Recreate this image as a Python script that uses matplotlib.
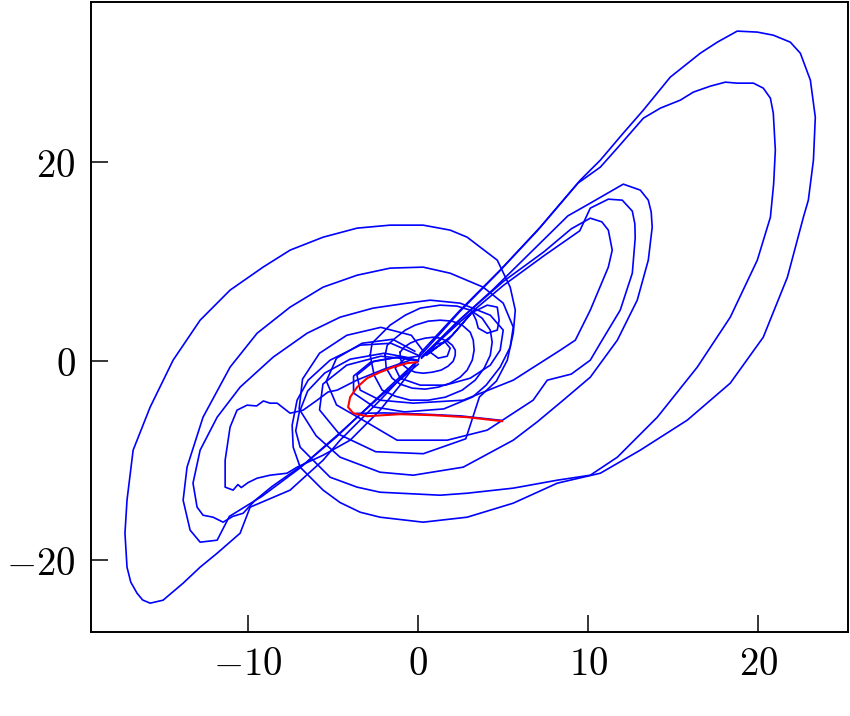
import matplotlib
matplotlib.use("Agg")
import matplotlib.pyplot as plt
from matplotlib.ticker import FuncFormatter

plt.rcParams['mathtext.fontset'] = 'cm'

# trajectory pieces, (x, y) pairs
loop_outer_right = [
    (0.0, 0.0), (0.12, 0.8), (2.47, 5.13), (4.82, 9.15), (7.18, 13.47), (9.53, 18.19),
    (10.71, 20.2), (12.0, 22.8), (13.24, 25.23), (14.82, 28.54), (16.59, 30.95), (17.59, 32.06),
    (18.76, 33.17), (19.94, 33.07), (20.88, 32.76), (21.88, 32.06), (22.47, 30.95),
    (23.06, 28.24), (23.35, 24.52), (23.24, 20.2), (22.94, 16.18), (22.65, 14.47),
    (21.71, 8.44), (20.29, 2.41), (18.35, -2.21), (15.82, -5.93), (13.06, -8.94),
    (10.71, -11.26), (8.18, -12.26), (5.59, -14.27), (2.88, -15.68), (0.29, -16.18),
    (-2.24, -15.68), (-3.41, -15.18), (-4.6, -14.2), (-5.59, -12.96), (-6.94, -10.65),
    (-7.35, -8.64), (-7.41, -6.43), (-7.12, -3.92), (-6.47, -1.91), (-5.18, 0.1),
    (-3.41, 1.61), (-1.6, 1.8), (0.0, 0.6),
]

loop_right_b = [
    (0.1, 0.5), (2.4, 4.9), (4.7, 8.9), (7.0, 13.1), (9.4, 17.9), (10.71, 19.5),
    (11.71, 21.42), (13.24, 24.42), (14.24, 25.43), (15.41, 26.23), (16.18, 27.04),
    (17.18, 27.64), (18.06, 28.04), (18.76, 27.94), (19.71, 27.94), (20.29, 27.44),
    (20.71, 26.43), (20.88, 24.92), (21.0, 21.21), (20.9, 17.8), (20.71, 14.47), (19.94, 10.15),
    (18.35, 4.42), (16.41, -0.6), (14.06, -5.63), (11.71, -9.65), (10.12, -11.46),
    (8.18, -11.96), (5.59, -12.76), (2.88, -13.27), (1.29, -13.47), (-2.24, -13.17),
    (-3.59, -12.66), (-5.18, -11.66), (-6.18, -9.95), (-6.94, -8.64), (-7.2, -7.0),
    (-7.0, -5.2), (-6.5, -3.0), (-5.5, -1.2), (-4.0, 0.2), (-2.0, 0.8), (-0.4, 0.3),
]

loop_right_c = [
    (0.2, 0.3), (2.2, 3.8), (4.4, 7.2), (6.6, 10.9), (8.8, 14.6), (10.12, 15.88),
    (12.06, 17.79), (13.06, 17.19), (13.53, 16.18), (13.7, 15.0), (13.76, 13.47), (13.53, 10.15),
    (12.88, 6.13), (11.71, 2.11), (10.12, -1.61), (8.53, -3.92), (7.0, -6.1), (5.59, -7.94),
    (2.65, -10.65), (-0.29, -11.46), (-2.24, -11.16), (-4.59, -9.65), (-6.0, -7.5),
    (-7.0, -4.8), (-6.8, -1.8), (-5.8, 0.8), (-4.2, 2.6), (-2.2, 3.4), (-0.4, 2.6),
    (0.3, 1.0),
]

loop_right_d = [
    (0.2, 0.4), (2.5, 4.0), (5.0, 7.6), (7.4, 10.6), (9.5, 13.1), (10.12, 15.38),
    (11.18, 16.28), (12.0, 16.18), (12.59, 15.08), (12.74, 13.8), (12.76, 12.36), (12.59, 8.84),
    (11.88, 5.13), (10.71, 1.81), (10.12, 0.1), (9.0, -1.3), (7.59, -1.91),
    (6.76, -3.92), (4.06, -6.93), (1.71, -7.94), (-1.24, -7.94), (-3.24, -5.93),
    (-4.8, -4.4), (-5.4, -2.0), (-4.8, 0.3), (-3.3, 1.8), (-1.5, 2.2), (-0.2, 1.0),
]

loop_right_e = [
    (0.3, 0.6), (2.6, 4.4), (5.0, 8.0), (7.4, 11.0), (9.0, 13.3), (10.12, 14.37),
    (10.8, 14.0), (11.18, 13.17), (11.41, 11.16), (11.18, 9.45), (10.12, 5.13), (9.24, 2.11),
    (8.35, 1.1), (5.59, -1.91), (2.65, -3.92), (-0.29, -4.22), (-2.24, -3.92),
    (-3.41, -2.91), (-3.6, -1.4), (-2.6, 0.0), (-1.2, 0.4), (0.0, 0.1),
]

loop_left_1 = [
    (0.0, 0.0), (-0.3, -0.4), (-2.24, -3.92), (-4.59, -7.94), (-5.59, -9.95),
    (-7.53, -12.96), (-9.88, -14.67), (-10.47, -17.29), (-11.82, -19.3), (-12.82, -20.7),
    (-13.82, -22.31), (-15.0, -24.02), (-15.76, -24.32), (-16.2, -24.0), (-16.53, -23.32),
    (-16.9, -22.2), (-17.12, -20.7), (-17.24, -17.29), (-17.12, -13.97), (-16.76, -8.94),
    (-15.76, -4.62), (-14.41, 0.1), (-12.82, 4.12), (-11.06, 7.14), (-9.12, 9.45),
    (-7.53, 11.16), (-5.59, 12.46), (-3.59, 13.37), (-1.65, 13.67), (0.29, 13.67),
    (1.88, 13.17), (2.88, 12.46), (4.65, 10.15), (5.41, 7.44), (5.71, 5.13), (5.59, 2.81),
    (5.24, 0.1), (4.6, -2.0), (3.6, -3.6), (2.8, -7.8), (0.3, -9.3), (-2.5, -9.1),
    (-4.6, -7.4), (-5.8, -4.9), (-5.6, -2.3), (-4.2, -0.4), (-2.2, 0.5), (-0.5, 0.2),
]

loop_left_2 = [
    (-0.2, -0.2), (-2.4, -3.7), (-4.8, -7.6), (-7.0, -10.8), (-9.2, -13.6), (-11.1, -15.6),
    (-11.82, -17.99), (-12.82, -18.19), (-13.41, -16.98), (-13.82, -13.97), (-13.59, -10.65),
    (-12.65, -5.63), (-11.06, -0.6), (-9.47, 2.81), (-7.53, 5.43), (-5.59, 7.44),
    (-3.59, 8.64), (-1.65, 9.35), (0.29, 9.45), (1.88, 8.84), (3.82, 7.44), (5.0, 5.83),
    (5.59, 3.42), (5.41, 1.41), (4.82, -0.6), (4.0, -2.4), (3.2, -3.6), (1.5, -4.8),
    (-0.8, -5.1), (-2.6, -4.6), (-3.8, -3.2), (-3.8, -1.5), (-2.8, -0.1), (-1.2, 0.4),
    (0.0, 0.0),
]

loop_left_3 = [
    (0.0, -0.3), (-2.2, -3.5), (-4.6, -7.2), (-6.6, -10.2), (-8.6, -12.6), (-9.6, -14.0),
    (-10.29, -15.28), (-10.9, -15.6), (-11.47, -16.18), (-12.06, -15.68), (-12.65, -15.48),
    (-13.0, -14.67), (-13.24, -12.26), (-12.82, -8.94), (-11.82, -5.63), (-10.47, -2.61),
    (-8.53, 0.4), (-6.53, 2.81), (-4.59, 4.42), (-2.65, 5.33), (-0.65, 5.83), (0.71, 6.13),
    (2.47, 5.83), (4.24, 4.62), (5.0, 3.12), (4.82, 1.11), (4.24, -0.4), (3.06, -1.71),
    (1.59, -2.41), (0.12, -2.41), (-1.06, -1.71), (-1.35, -0.7), (-0.76, 0.3), (0.0, 0.5),
]

loop_jagged = [
    (-0.3, 0.2), (-2.0, -0.8), (-3.6, -1.9), (-4.76, -2.91), (-5.3, -3.1), (-5.94, -3.92),
    (-6.76, -4.92), (-7.53, -5.23), (-8.29, -4.22), (-8.71, -4.22), (-9.1, -4.0),
    (-9.5, -4.5), (-10.06, -4.42), (-10.65, -4.92), (-11.06, -6.63), (-11.35, -9.95),
    (-11.35, -12.66), (-10.88, -12.96), (-10.6, -12.4), (-10.4, -12.7), (-10.0, -12.2),
    (-9.47, -11.76), (-8.71, -11.46), (-7.71, -11.26), (-7.12, -10.65), (-5.59, -9.45),
    (-4.0, -7.94), (-2.24, -4.92), (-1.06, -2.41), (-0.18, -0.4),
]

loop_small_right = [
    (0.2, 0.4), (1.8, 2.2), (3.18, 4.92), (3.47, 5.13), (4.06, 5.63), (4.65, 5.43),
    (4.76, 4.12), (4.65, 3.12), (4.06, 2.81), (3.53, 3.32), (3.41, 4.12), (3.18, 4.92),
    (2.0, 2.6), (0.5, 0.6),
]

ring_0 = [(0.71, 0.9), (1.06, 1.71), (1.59, 1.91), (1.88, 1.31), (1.71, 0.5), (1.18, 0.3), (0.71, 0.9)]
ring_1 = [(-1.06, 0.9), (-0.82, 1.41), (-0.47, 1.81), (-0.06, 2.11), (0.41, 2.31), (0.88, 2.41),
          (1.29, 2.31), (1.71, 2.01), (2.0, 1.61), (2.18, 1.11), (2.18, 0.6), (2.06, 0.0),
          (1.76, -0.5), (1.35, -0.9), (0.82, -1.11), (0.29, -1.21), (-0.18, -1.11),
          (-0.59, -0.8), (-0.88, -0.4), (-1.06, 0.3), (-1.06, 0.9)]
ring_2 = [(-1.94, 0.6), (-1.82, 1.61), (-1.35, 2.31), (-0.76, 3.12), (-0.18, 3.62), (0.59, 4.02),
          (1.29, 4.12), (2.0, 4.02), (2.59, 3.62), (3.06, 2.91), (3.24, 2.11), (3.29, 1.11),
          (3.18, 0.1), (2.88, -0.9), (2.47, -1.61), (1.88, -2.21), (1.18, -2.61), (0.41, -2.81),
          (-0.35, -2.71), (-1.06, -2.31), (-1.53, -1.71), (-1.88, -0.7), (-1.94, 0.6)]
ring_3 = [(-2.82, 0.6), (-2.71, 1.81), (-2.24, 2.61), (-1.65, 3.62), (-0.76, 4.62), (0.12, 5.33),
          (1.29, 5.63), (2.29, 5.53), (3.06, 5.13), (3.76, 4.32), (4.24, 3.12), (4.35, 1.91),
          (4.24, 0.6), (3.88, -0.7), (3.35, -1.91), (2.59, -2.91), (1.59, -3.62), (0.59, -3.92),
          (-0.47, -3.92), (-1.35, -3.52), (-2.12, -2.91), (-2.59, -1.41), (-2.82, 0.6)]

tail_blue = [(-3.6, -5.25), (-2.0, -5.2), (0.0, -5.3), (2.5, -5.5), (4.9, -5.95)]

red_x = [-0.06, -0.65, -1.47, -2.24, -3.0, -3.59, -4.0, -4.12, -3.82, -3.0, -2.06, -1.06, 0.88, 2.88, 4.94]
red_y = [-0.1, -0.2, -0.6, -1.11, -1.71, -2.61, -3.62, -4.62, -5.23, -5.53, -5.43, -5.33, -5.43, -5.63, -6.03]

blue_pieces = [loop_outer_right, loop_right_b, loop_right_c, loop_right_d, loop_right_e,
               loop_left_1, loop_left_2, loop_left_3, loop_jagged, loop_small_right,
               ring_0, ring_1, ring_2, ring_3, tail_blue]

fig = plt.figure(figsize=(8.5, 7.16), dpi=100)
ax = fig.add_axes([0.107, 0.117, 0.891, 0.88])

for piece in blue_pieces:
    xs = [p[0] for p in piece]
    ys = [p[1] for p in piece]
    ax.plot(xs, ys, color='#0000ff', lw=1.2, solid_joinstyle='round')

ax.plot(red_x, red_y, color='#ff0000', lw=1.5, zorder=5, solid_joinstyle='round')

ax.set_xlim(-19.24, 25.29)
ax.set_ylim(-27.24, 36.08)
ax.set_xticks([-10, 0, 10, 20])
ax.set_yticks([-20, 0, 20])
fmt = FuncFormatter(lambda v, pos: r'$%d$' % v)
ax.xaxis.set_major_formatter(fmt)
ax.yaxis.set_major_formatter(fmt)
ax.tick_params(direction='in', length=12, width=1.1, labelsize=28, pad=9)
ax.tick_params(axis='y', pad=11)
for sp in ax.spines.values():
    sp.set_linewidth(1.4)

fig.savefig('out.png', dpi=100)
